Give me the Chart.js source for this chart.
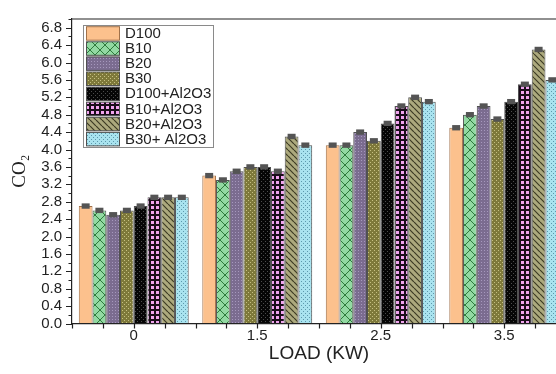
<!DOCTYPE html>
<html>
<head>
<meta charset="utf-8">
<script src="https://cdn.jsdelivr.net/npm/chart.js@4.4.1/dist/chart.umd.min.js"></script>
<style>
  html, body { margin: 0; padding: 0; background: #fff; overflow: hidden; }
  #wrap { width: 570px; height: 374px; }
</style>
</head>
<body>
<div id="wrap"><canvas id="co2Chart" width="570" height="374"></canvas></div>
<script>
// CO2 emission per fuel blend at each engine load
const loads = ['0', '1.5', '2.5', '3.5'];
const fuels = ['D100', 'B10', 'B20', 'B30', 'D100+Al2O3', 'B10+Al2O3', 'B20+Al2O3', 'B30+ Al2O3'];
const d100   = [2.7, 3.4, 4.1, 4.5];
const b10    = [2.6, 3.3, 4.1, 4.8];
const b20    = [2.5, 3.5, 4.4, 5.0];
const b30    = [2.6, 3.6, 4.2, 4.7];
const d100Al = [2.7, 3.6, 4.6, 5.1];
const b10Al  = [2.9, 3.5, 5.0, 5.5];
const b20Al  = [2.9, 4.3, 5.2, 6.3];
const b30Al  = [2.9, 4.1, 5.1, 5.6];
const co2Err = 0.05;

const FONT = "'Liberation Sans', Arial, sans-serif";
const ctx = document.getElementById('co2Chart').getContext('2d');

function makePattern(size, base, draw) {
  const c = document.createElement('canvas');
  c.width = size; c.height = size;
  const g = c.getContext('2d');
  g.fillStyle = base;
  g.fillRect(0, 0, size, size);
  if (draw) draw(g, size);
  return ctx.createPattern(c, 'repeat');
}

function dots(color, pts) {
  return (g) => {
    g.fillStyle = color;
    pts.forEach(p => g.fillRect(p[0], p[1], 1, 1));
  };
}

const fills = [
  '#FCC18D',
  makePattern(10, '#92D9A2', (g, s) => {
    g.strokeStyle = '#2E7A3C'; g.lineWidth = 1;
    g.beginPath();
    g.moveTo(0, 0); g.lineTo(s, s);
    g.moveTo(s, 0); g.lineTo(0, s);
    g.stroke();
  }),
  makePattern(3, '#7B6C90', dots('#A698BD', [[1, 1]])),
  makePattern(4, '#7E793A', dots('#C6C082', [[0, 0], [2, 2]])),
  makePattern(4, '#060606', dots('#4C4C4C', [[1, 1], [3, 3]])),
  makePattern(5, '#1A0C1A', (g) => { g.fillStyle = '#F0A4EE'; g.fillRect(1, 1, 3, 3); }),
  makePattern(6, '#ACA97D', (g, s) => {
    g.strokeStyle = '#3D3B24'; g.lineWidth = 1.2;
    g.beginPath();
    g.moveTo(0, 0); g.lineTo(s, s);
    g.moveTo(-s, 0); g.lineTo(0, s);
    g.moveTo(s, 0); g.lineTo(2 * s, s);
    g.stroke();
  }),
  makePattern(4, '#A9E3EF', dots('#5C98AC', [[1, 1], [3, 3]]))
];
const series = [d100, b10, b20, b30, d100Al, b10Al, b20Al, b30Al];

const datasets = fuels.map((name, i) => ({
  label: name,
  data: series[i],
  backgroundColor: fills[i],
  borderColor: i === 0 ? '#A0714A' : '#505050',
  borderWidth: 1,
  borderSkipped: 'bottom',
  categoryPercentage: 0.89,
  barPercentage: 1.0
}));

// small dark caps for the error bars
const errorCaps = {
  id: 'errorCaps',
  afterDatasetsDraw(chart) {
    const c = chart.ctx, y = chart.scales.y;
    c.save();
    c.fillStyle = '#545454';
    chart.data.datasets.forEach((ds, i) => {
      chart.getDatasetMeta(i).data.forEach((bar, j) => {
        const v = ds.data[j];
        const t = y.getPixelForValue(v + co2Err);
        const b = y.getPixelForValue(v - co2Err);
        c.fillRect(bar.x - 4, t - 0.5, 8, b - t + 1);
      });
    });
    c.restore();
  }
};

// top frame line plus major/minor tick marks on both axes
const frameTicks = {
  id: 'frameTicks',
  afterDraw(chart) {
    const c = chart.ctx, a = chart.chartArea, y = chart.scales.y;
    c.save();
    c.strokeStyle = '#222';
    c.lineWidth = 1.2;
    c.beginPath();
    c.moveTo(a.left, a.top); c.lineTo(a.right, a.top);
    for (let k = 0; k <= 35; k++) {
      const py = Math.round(y.getPixelForValue(k * 0.2)) + 0.5;
      const len = k % 2 === 0 ? 6 : 3.5;
      c.moveTo(a.left, py); c.lineTo(a.left - len, py);
    }
    const step = (a.right - a.left) / 16;
    for (let k = 0; k <= 16; k++) {
      const px = Math.round(a.left + k * step) + 0.5;
      c.moveTo(px, a.bottom); c.lineTo(px, a.bottom + 5);
    }
    c.stroke();
    c.restore();
  }
};

// framed legend in the upper-left corner of the plot
const legendBox = {
  id: 'legendBox',
  afterDraw(chart) {
    const c = chart.ctx, a = chart.chartArea;
    const x0 = a.left + 11, y0 = a.top + 6;
    const pitch = 15.1;
    c.save();
    c.strokeStyle = '#8a8a8a';
    c.lineWidth = 1;
    c.fillStyle = '#fff';
    c.fillRect(x0, y0, 130, 122);
    c.strokeRect(x0 + 0.5, y0 + 0.5, 130, 122);
    c.font = '15px ' + FONT;
    c.textBaseline = 'middle';
    chart.data.datasets.forEach((ds, i) => {
      const by = y0 + 1.7 + i * pitch;
      c.fillStyle = ds.backgroundColor;
      c.fillRect(x0 + 3.5, by, 33, 13.5);
      c.strokeStyle = ds.borderColor;
      c.strokeRect(x0 + 3.5, by, 33, 13.5);
      c.fillStyle = '#222';
      c.fillText(ds.label, x0 + 42, by + 7.2);
    });
    c.restore();
  }
};

new Chart(ctx, {
  type: 'bar',
  data: { labels: loads, datasets: datasets },
  options: {
    responsive: false,
    animation: false,
    layout: { padding: { top: 7, right: 4, left: 0, bottom: 0 } },
    plugins: {
      legend: { display: false },
      tooltip: { enabled: false }
    },
    scales: {
      x: {
        grid: { display: true, drawOnChartArea: false, drawTicks: false },
        border: { display: true, color: '#222', width: 1.2 },
        ticks: { color: '#222', font: { family: FONT, size: 15 }, padding: 3 },
        title: {
          display: true, text: 'LOAD (KW)', color: '#222',
          font: { family: FONT, size: 19 }, padding: { top: 0, bottom: 9 }
        },
        afterFit: (s) => { s.height = 50.5; }
      },
      y: {
        min: 0,
        max: 7,
        grid: { display: true, drawOnChartArea: false, drawTicks: false },
        border: { display: true, color: '#222', width: 1.2 },
        ticks: {
          stepSize: 0.2,
          autoSkip: false,
          padding: 10,
          color: '#222',
          font: { family: FONT, size: 15 },
          callback: (v) => Math.round(v * 10) % 4 === 0 ? Number(v).toFixed(1) : ''
        },
        title: {
          display: true, text: 'CO₂', color: '#222',
          font: { family: "'Liberation Serif', 'Times New Roman', serif", size: 19 },
          padding: { top: 9, bottom: 0 }
        },
        afterFit: (s) => { s.width = 72; }
      }
    }
  },
  plugins: [errorCaps, frameTicks, legendBox]
});
</script>
</body>
</html>
